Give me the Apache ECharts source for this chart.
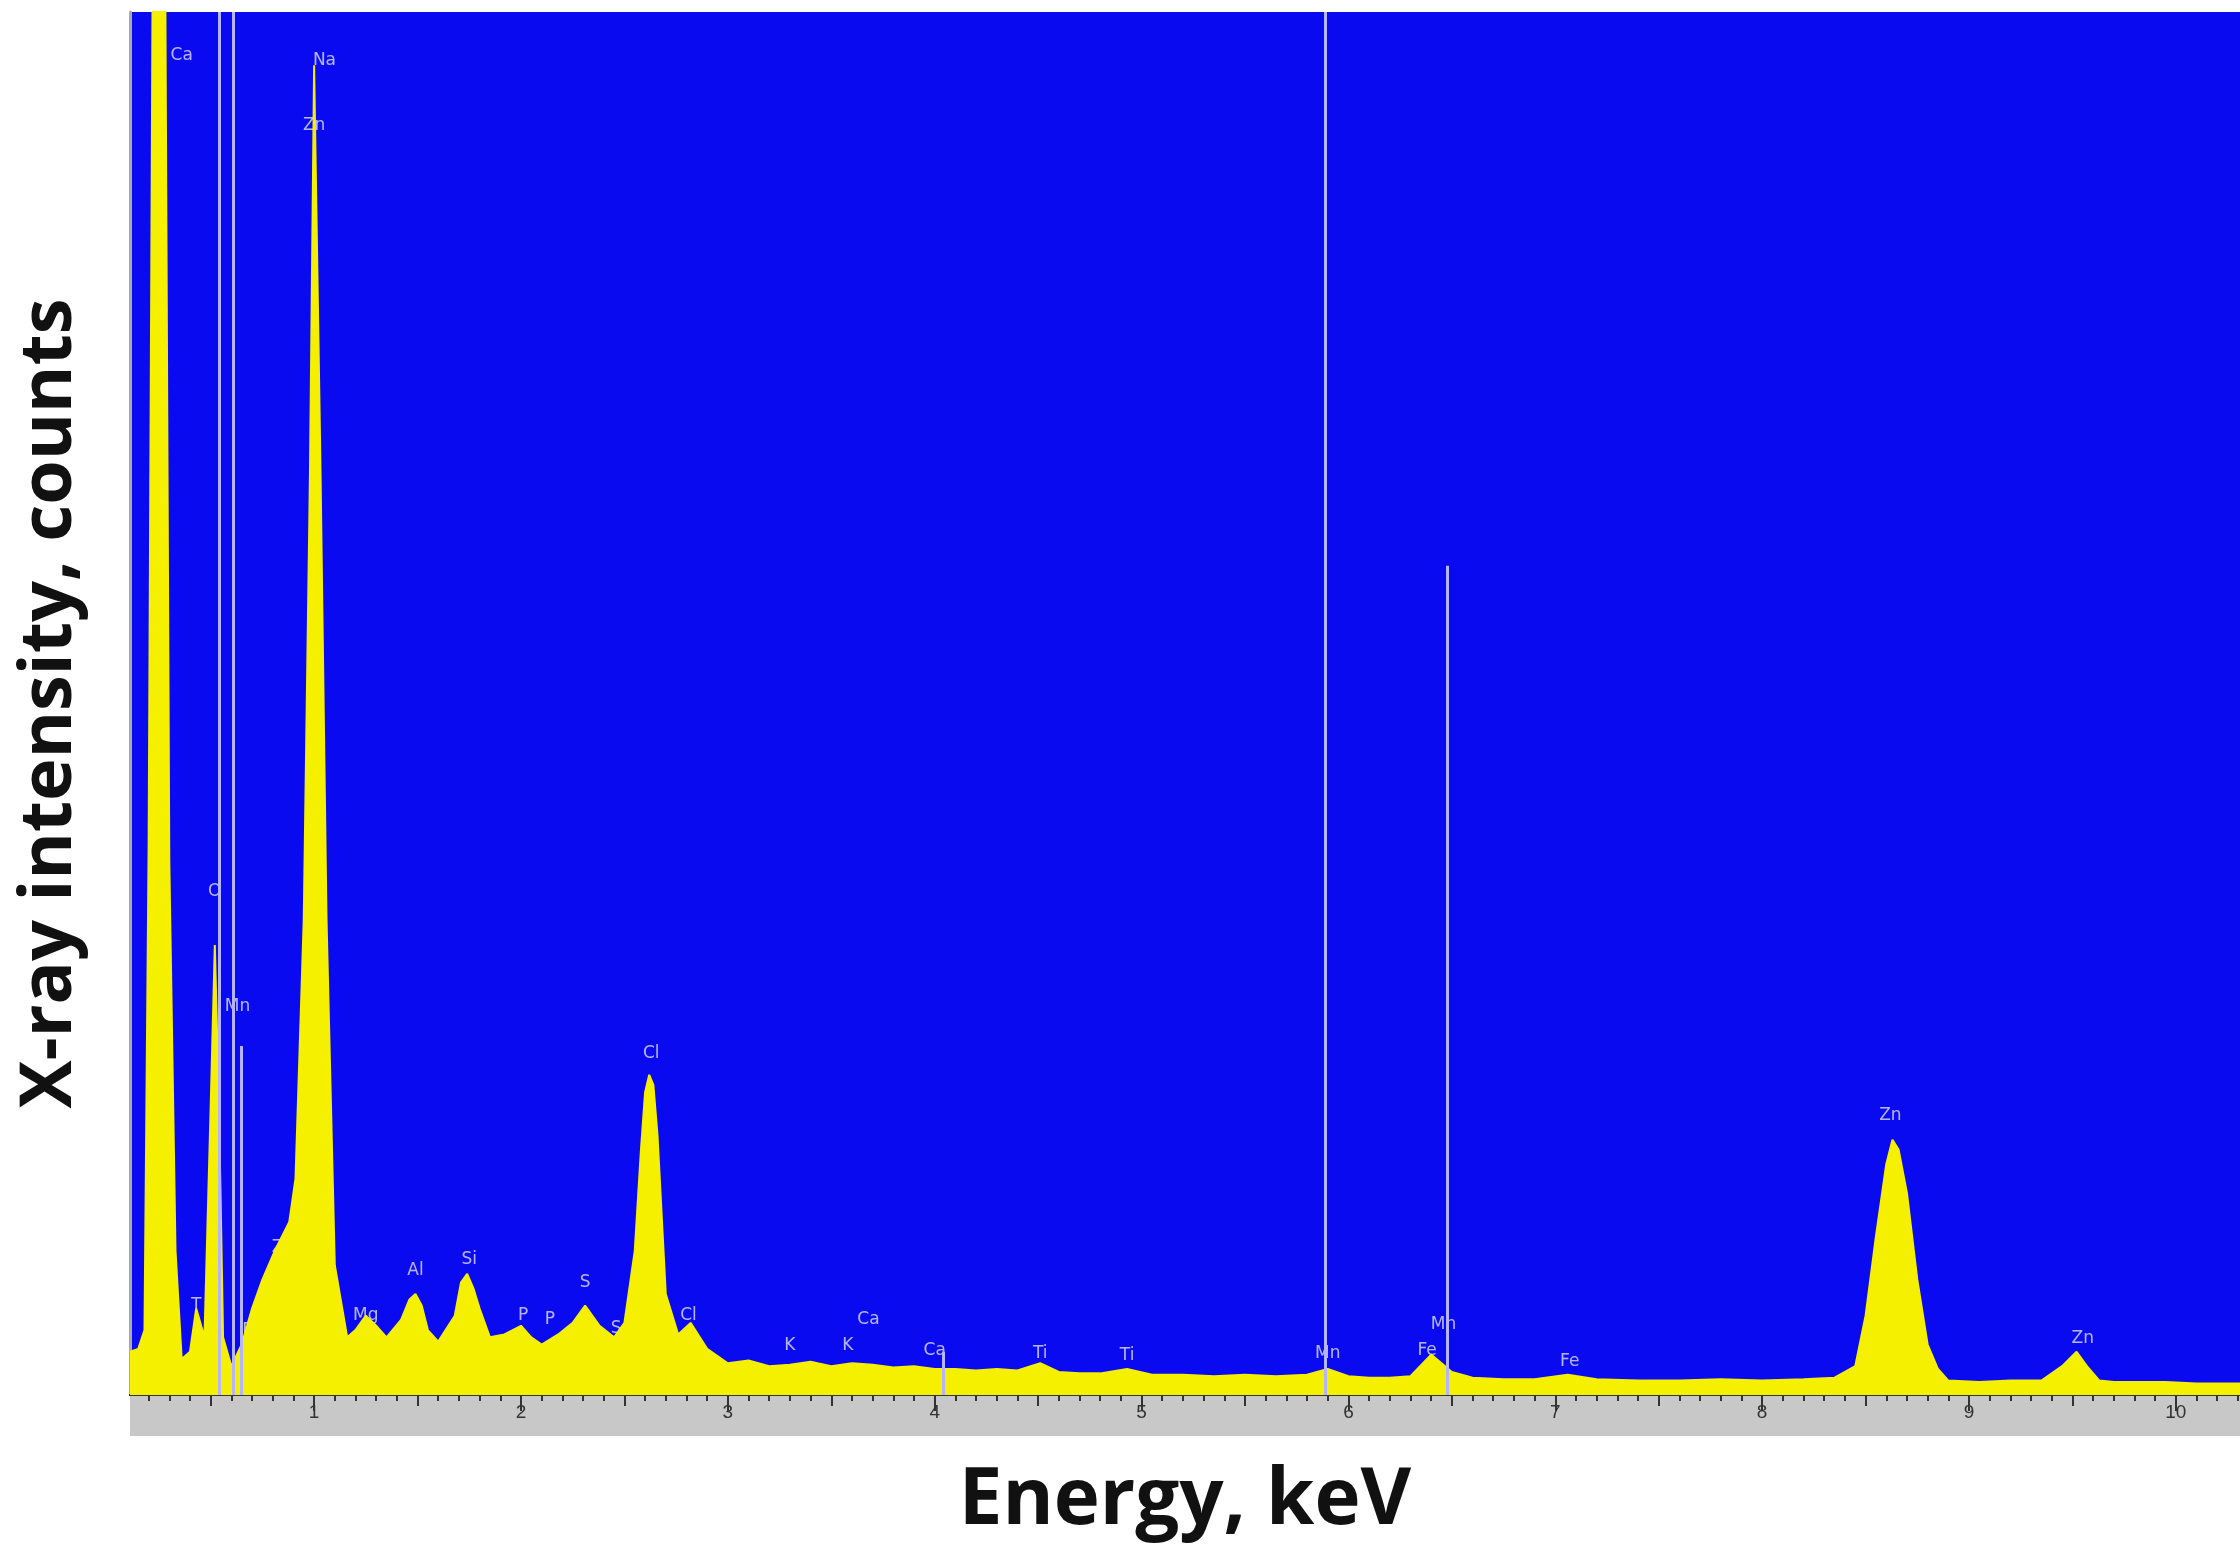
<!DOCTYPE html>
<html>
<head>
<meta charset="utf-8">
<script src="https://cdn.jsdelivr.net/npm/echarts@6/dist/echarts.min.js"></script>
<style>html,body{margin:0;padding:0;background:#fff}#chart{width:2240px;height:1552px}</style>
</head>
<body>
<div id="chart"></div>
<script>
// spectrum samples: energy (keV) and intensity (counts, arbitrary)
var energy = [0.11,0.15,0.18,0.2,0.22,0.25,0.28,0.3,0.33,0.36,0.4,0.43,0.47,0.5,0.52,0.54,0.56,0.6,0.65,0.7,0.75,0.81,0.88,0.91,0.95,0.98,1.0,1.03,1.06,1.1,1.16,1.2,1.25,1.3,1.35,1.42,1.46,1.49,1.52,1.55,1.6,1.68,1.71,1.74,1.77,1.8,1.85,1.92,2.0,2.05,2.1,2.18,2.25,2.31,2.38,2.45,2.5,2.55,2.58,2.6,2.62,2.64,2.66,2.7,2.76,2.82,2.9,3.0,3.1,3.2,3.3,3.4,3.5,3.6,3.7,3.8,3.9,4.0,4.1,4.2,4.3,4.4,4.51,4.6,4.7,4.8,4.93,5.05,5.2,5.35,5.5,5.65,5.8,5.9,6.0,6.1,6.2,6.3,6.4,6.5,6.6,6.75,6.9,7.06,7.2,7.4,7.6,7.8,8.0,8.2,8.35,8.45,8.5,8.55,8.6,8.63,8.66,8.7,8.75,8.8,8.85,8.9,9.05,9.2,9.35,9.45,9.52,9.57,9.63,9.7,9.8,9.95,10.1,10.2,10.31,10.4];
var counts = [30,32,45,380,1000,1000,1000,370,100,25,30,60,40,200,312,200,40,20,35,60,80,100,120,150,330,640,922,650,330,90,40,45,55,48,40,52,66,70,62,45,37,55,78,84,74,60,40,42,48,40,35,42,50,62,48,40,50,100,170,210,222,215,180,70,42,50,32,22,24,20,21,23,20,22,21,19,20,18,18,17,18,17,22,16,15,15,18,14,14,13,14,13,14,18,13,12,12,13,28,16,12,11,11,14,11,10,10,11,10,11,12,20,55,110,160,177,170,140,80,35,18,10,9,10,10,20,30,20,10,9,9,9,8,8,8];

// element labels: name, energy (keV), label height (counts)
var labelNames = ['Ca','Na','Zn','O','Mn','Zn','T','Fr','Mg','Al','Si','P','P','S','S','Cl','Cl','K','K','Ca','Ca','Ti','Ti','Mn','Fe','Mn','Fe','Zn','Zn'];
var labelEnergy = [0.36,1.05,1.0,0.52,0.63,0.85,0.43,0.69,1.25,1.49,1.75,2.01,2.14,2.31,2.46,2.63,2.81,3.3,3.58,3.68,4.0,4.51,4.93,5.9,6.38,6.46,7.07,8.62,9.55];
var labelHeight = [929,925,880,349,269,102,62,45,55,86,94,55,52,78,46,237,55,34,34,52,31,29,27,29,31,49,23,194,39];

// marker lines: full height and partial (start height)
var fullLines = [0.544,0.614,5.89];
var partLines = [[0.649,242],[6.476,575],[4.04,30]];

// axis ticks
var majorTicks = [1,2,3,4,5,6,7,8,9,10];
var halfTicks = [0.5,1.5,2.5,3.5,4.5,5.5,6.5,7.5,8.5,9.5];
var minorTicks = [];
for (var t = 2; t <= 103; t++) minorTicks.push(t / 10);

var chart = echarts.init(document.getElementById('chart'));

var spectrum = energy.map(function (e, i) { return [e, counts[i]]; });
var labels = labelNames.map(function (n, i) { return { value: [labelEnergy[i], labelHeight[i]], name: n }; });
var lines = fullLines.map(function (e) { return { xAxis: e }; });
partLines.forEach(function (p) {
  lines.push([{ coord: [p[0], p[1]] }, { coord: [p[0], 0] }]);
});

function tickAxis(vals, len, withLabel) {
  return {
    type: 'value', min: 0.11, max: 10.31, position: 'bottom', offset: 0,
    axisLine: { show: true, lineStyle: { color: '#333', width: 2 } },
    axisTick: { length: len, customValues: vals, lineStyle: { color: '#333', width: 2 } },
    axisLabel: withLabel ? { fontSize: 19, color: '#333', margin: 8, customValues: vals } : { show: false },
    splitLine: { show: false }
  };
}
var xMajor = tickAxis(majorTicks, 16, true);
xMajor.name = 'Energy, keV';
xMajor.nameLocation = 'middle';
xMajor.nameGap = 68;
xMajor.nameTextStyle = { fontFamily: 'Open Sans', fontWeight: 'bold', fontSize: 78, color: '#111' };

chart.setOption({
  animation: false,
  graphic: [{ type: 'rect', shape: { x: 130, y: 1395, width: 2110, height: 41 }, style: { fill: '#c8c8c8' }, z: -1 }],
  grid: { left: 130, right: 0, top: 12, bottom: 157, outerBoundsMode: 'none', containLabel: false,
          show: true, backgroundColor: '#0a0af0', borderWidth: 0 },
  xAxis: [xMajor, tickAxis(halfTicks, 11, false), tickAxis(minorTicks, 6, false)],
  yAxis: {
    type: 'value', min: 0, max: 959,
    name: 'X-ray intensity, counts', nameLocation: 'middle', nameGap: 44,
    nameTextStyle: { fontFamily: 'Open Sans', fontWeight: 'bold', fontSize: 72, color: '#111' },
    axisLine: { show: true, lineStyle: { color: '#aaa', width: 3 } },
    axisTick: { show: false }, axisLabel: { show: false }, splitLine: { show: false }
  },
  series: [
    {
      type: 'line', data: spectrum, symbol: 'none', clip: true,
      lineStyle: { color: '#f5f000', width: 2 },
      areaStyle: { color: '#f5f000', opacity: 1 },
      markLine: {
        silent: true, symbol: 'none', label: { show: false },
        lineStyle: { color: '#b4b4ff', width: 3, type: 'solid' },
        data: lines
      }
    },
    {
      type: 'scatter', data: labels, symbolSize: 0, silent: true,
      label: { show: true, position: 'inside', formatter: '{b}', color: '#e0e0ff', fontSize: 17, fontFamily: 'DejaVu Sans' }
    }
  ]
});
</script>
</body>
</html>
